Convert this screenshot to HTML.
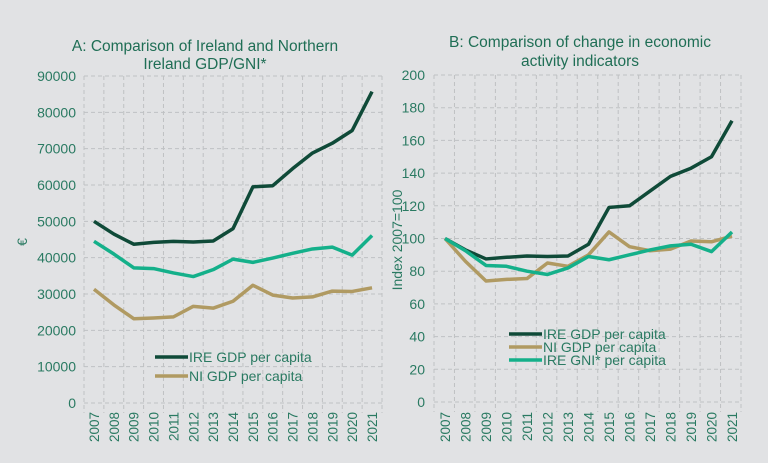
<!DOCTYPE html>
<html><head><meta charset="utf-8"><style>
html,body{margin:0;padding:0;background:#e1e2e4;}
svg{display:block;font-family:"Liberation Sans",sans-serif;}
</style></head><body>
<svg id="s" width="768" height="463" xmlns="http://www.w3.org/2000/svg">
<rect width="768" height="463" fill="#e1e2e4"/>
<g fill="#1f6e55" font-size="15.5" text-anchor="middle">
<text x="205" y="51">A: Comparison of Ireland and Northern</text>
<text x="205" y="69">Ireland GDP/GNI*</text>
<text x="580" y="47">B: Comparison of change in economic</text>
<text x="580" y="66">activity indicators</text>
</g>
</svg>
<script>
var s=document.getElementById('s'),NS='http://www.w3.org/2000/svg';
function el(t,a,txt){var e=document.createElementNS(NS,t);for(var k in a)e.setAttribute(k,a[k]);if(txt!=null)e.textContent=txt;s.appendChild(e);return e;}
var dark='#0f4a38',tan='#b09a62',grn='#14b08a',tc='#2a7a62';
function chart(o){
 var yv=function(v){return o.y0-(v/o.max)*(o.y0-o.y1);};
 var xv=function(i){return o.x0+i*o.dx;};
 for(var v=0;v<=o.max;v+=o.step){
  el('line',{x1:o.gl,x2:o.gr,y1:yv(v),y2:yv(v),stroke:'#bfc1c3','stroke-dasharray':'4,3','stroke-width':1});
  el('text',{x:o.lx,y:yv(v)+5,'text-anchor':'end','font-size':14,fill:tc},String(v));
 }
 for(var i=0;i<=15;i++){var x=o.gl+i*(o.gr-o.gl)/15;
  el('line',{x1:x,x2:x,y1:o.y1,y2:o.y0+10,stroke:'#bfc1c3','stroke-dasharray':'4,3','stroke-width':1});}
 for(var i=0;i<15;i++){var x=xv(i)+5;
  el('text',{x:x,y:412,'text-anchor':'end','font-size':13.5,fill:tc,transform:'rotate(-90 '+x+' 412)'},String(2007+i));}
 o.series.forEach(function(sr){
  el('polyline',{points:sr.d.map(function(v,i){return xv(i)+','+yv(v);}).join(' '),fill:'none',stroke:sr.c,'stroke-width':3.5,'stroke-linejoin':'round'});
 });
 o.leg.forEach(function(l,i){var y=o.ly+i*o.lg;
  el('line',{x1:o.lx0,x2:o.lx0+33,y1:y,y2:y,stroke:l.c,'stroke-width':3.5});
  el('text',{x:o.lx0+34,y:y+5,'font-size':14,fill:tc},l.t);});
 el('text',{x:o.tx,y:o.ty,'text-anchor':'middle','font-size':14,fill:tc,transform:'rotate(-90 '+o.tx+' '+o.ty+')'},o.title);
}
var ireA=[50000,46500,43700,44200,44500,44300,44600,48000,59500,59800,64500,68800,71500,75000,85700];
var gniA=[44500,41000,37200,37000,35800,34800,36700,39600,38700,39900,41200,42400,42900,40700,46100];
var niA=[31300,27000,23200,23400,23700,26600,26100,28000,32400,29700,28900,29200,30800,30700,31700];
chart({y0:403,y1:76,max:90000,step:10000,gl:84,gr:382,x0:94,dx:19.86,lx:76,
 series:[{d:niA,c:tan},{d:gniA,c:grn},{d:ireA,c:dark}],
 leg:[{t:'IRE GDP per capita',c:dark},{t:'NI GDP per capita',c:tan}],ly:357,lg:19,lx0:155,
 tx:27,ty:242,title:'€'});
var ireB=[100,93,87.5,88.5,89.3,89,89.3,96.5,119,120,129,138,143,150,172];
var niB=[100,86,74,75,75.5,85,83,90,104,95,92.5,93.5,98.5,98,101.5];
var gniB=[100,92.5,83.5,83,80,78,82,89,87,90,93,95.5,96.5,92,104];
chart({y0:402,y1:75,max:200,step:20,gl:434,gr:741,x0:445,dx:20.5,lx:425,
 series:[{d:ireB,c:dark},{d:niB,c:tan},{d:gniB,c:grn}],
 leg:[{t:'IRE GDP per capita',c:dark},{t:'NI GDP per capita',c:tan},{t:'IRE GNI* per capita',c:grn}],ly:334,lg:13,lx0:509,
 tx:402,ty:240,title:'Index 2007=100'});
</script>
</body></html>
